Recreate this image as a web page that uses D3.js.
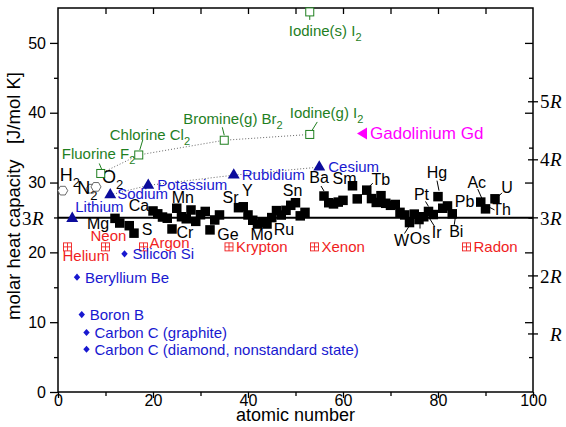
<!DOCTYPE html>
<html>
<head>
<meta charset="utf-8">
<title>Dulong-Petit</title>
<script src="https://d3js.org/d3.v7.min.js"></script>
<style>
  body { margin: 0; background: #fff; }
  text { font-family: Arial, "Liberation Sans", sans-serif; }
  .serif { font-family: "Liberation Serif", "Times New Roman", serif; }
</style>
</head>
<body>
<script>
// ---- data (molar heat capacity, J/mol K, 25 C) ----
var R = 8.314;

var solidSym = ['Mg','Al','P','S','Ca','Sc','Ti','V','Cr','Mn','Fe','Co','Ni','Cu','Zn','Ga','Ge','As','Se',
  'Sr','Y','Zr','Nb','Mo','Tc','Ru','Rh','Pd','Ag','Cd','In','Sn','Sb','Te',
  'Ba','La','Ce','Pr','Nd','Sm','Eu','Tb','Dy','Ho','Er','Tm','Yb','Lu','Hf','Ta','W','Re','Os','Ir','Pt','Au','Hg','Tl','Pb','Bi',
  'Ac','Th','U'];
var solidZ = [12,13,15,16,20,21,22,23,24,25,26,27,28,29,30,31,32,33,34,
  38,39,40,41,42,43,44,45,46,47,48,49,50,51,52,
  56,57,58,59,60,62,63,65,66,67,68,69,70,71,72,73,74,75,76,77,78,79,80,81,82,83,
  89,90,92];
var solidCp = [24.87,24.20,23.82,22.75,25.93,25.52,25.06,24.89,23.35,26.32,25.10,24.81,26.07,24.44,25.39,25.86,23.22,24.64,25.36,
  26.40,26.53,25.36,24.60,24.06,24.27,24.06,24.98,25.98,25.35,26.02,26.74,27.11,25.23,25.73,
  28.07,27.11,26.94,27.20,27.45,29.54,27.66,28.91,27.70,27.15,28.12,27.03,26.74,26.86,25.73,25.36,24.27,25.48,24.70,25.10,25.86,25.42,27.98,26.32,26.65,25.52,
  27.20,26.23,27.67];

var alkaliName = ['Lithium','Sodium','Potassium','Rubidium','Cesium'];
var alkaliZ = [3,11,19,37,55];
var alkaliCp = [24.86,28.23,29.60,31.06,32.21];

var nobleName = ['Helium','Neon','Argon','Krypton','Xenon','Radon'];
var nobleZ = [2,10,18,36,54,86];
var nobleCp = [20.786,20.786,20.786,20.786,20.786,20.786];

var lightName = ['Beryllium Be','Silicon Si','Boron B','Carbon C (graphite)','Carbon C (diamond, nonstandard state)'];
var lightZ = [4,14,5,6,6];
var lightCp = [16.44,19.79,11.09,8.52,6.12];

var halName = ['Fluorine F','Chlorine Cl','Bromine(g) Br','Iodine(g) I','Iodine(s) I'];
var halZ = [9,17,35,53,53];
var halCp = [31.30,33.95,36.06,36.89,54.44];

var gasName = ['H','N','O'];
var gasZ = [1,7,8];
var gasCp = [28.84,29.12,29.38];

var gdZ = 64, gdCp = 37.03;

var xTicks = [0,20,40,60,80,100];
var yTicks = [0,10,20,30,40,50];
var rMult = [1,2,3,4,5];

// ---- label placement (pixels relative to point) ----
var solidLab = {
  Mg:[-17,11], Ca:[-14,0], S:[13,2], Cr:[13,9], Mn:[6,-5], Ge:[18,10], Sr:[-8,-5], Y:[4,-11],
  Mo:[4,16], Ru:[17,11], Sn:[-3,-7], Ba:[-5,-13,[-3,-10,0,-5]], Sm:[-8,-2], Tb:[14,-5,[6,-7,3,-4]],
  Hg:[-1,-19,[-1,-16,1,-6]], Pt:[-7,-11,[-3,-10,0,-5]], Pb:[17,1], Bi:[4,23,[3,4,2,11]],
  Ir:[13,21,[6,2,11,10]], Os:[1,24,[1,3,1,9]], W:[-8,23,[0,3,-5,11]],
  Ac:[-4,-14,[-3,-13,1,-4]], Th:[16,6,[3,-2,9,1]], U:[12,-6,[7,-6,3,-2]]
};
var alkaliLab = [[3,-6],[7,4],[9,5],[8,5],[9,5]];
var nobleLab = [[-5,14],[-15,-6],[6,1],[7,5],[7,5],[7,5]];
var halLab = [[-39,-14,[-1.5,-10,1,-4]],[-29,-15,[4,-15,1,-5]],[-41,-16,[-2,-13,0,-5]],[-20,-16,[7.5,-12.5,1,-2]],[-21,24,[0,4,0,8]]];
var gasLab = [[-3,-10],[-14,5],[6,-4]];

var W = 566, H = 427;
var x = d3.scaleLinear().domain([0,100]).range([58,533]);
var y = d3.scaleLinear().domain([0,55]).range([392,8]);

var green = '#1f7f1f', blueT = '#1818d0', navy = '#0c0c9c', red = '#f01e1e', mag = '#ff00ff';

var svg = d3.select('body').append('svg').attr('width', W).attr('height', H);

// axes
var gb = svg.append('g').attr('transform', 'translate(0,392)');
gb.call(d3.axisBottom(x).tickValues(xTicks).tickSize(6).tickPadding(0));
gb.append('g').call(d3.axisBottom(x).tickValues([10,30,50,70,90]).tickSize(4).tickFormat(''));
gb.selectAll('.tick text').attr('y', 3);
svg.append('g').attr('transform', 'translate(0,8)')
  .call(d3.axisTop(x).tickValues([10,20,30,40,50,60,70,80,90]).tickSize(-6).tickFormat(''));
var gl = svg.append('g').attr('transform', 'translate(58,0)');
gl.call(d3.axisLeft(y).tickValues(yTicks).tickSize(8).tickPadding(4));
gl.append('g').call(d3.axisLeft(y).tickValues([5,15,25,35,45]).tickSize(4).tickFormat(''));
var gr = svg.append('g').attr('transform', 'translate(533,0)');
gr.call(d3.axisRight(y).tickValues(yTicks.slice(1)).tickSize(-8).tickFormat(''));
gr.append('g').call(d3.axisRight(y).tickValues([5,15,25,35,45]).tickSize(-4).tickFormat(''));
svg.selectAll('.domain').remove();
svg.selectAll('.tick line').attr('stroke', '#000').attr('stroke-width', 1.3);
svg.selectAll('.tick text').attr('font-size', 16).attr('fill', '#000')
  .style('font-family', 'Arial, "Liberation Sans", sans-serif');

// R ticks on the right
var rg = gr.selectAll('g.rt').data(rMult).enter().append('g').attr('class', 'rt')
  .attr('transform', d => 'translate(0,' + y(d * R) + ')');
rg.append('line').attr('x1', -5).attr('x2', 5).attr('stroke', '#000').attr('stroke-width', 1.3);
var rt = rg.append('text').attr('class', 'serif').attr('dy', '0.35em').attr('font-size', 19).attr('fill', '#000');
rt.append('tspan').attr('x', 7).text(d => d === 1 ? '' : d);
rt.append('tspan').attr('x', 17).attr('font-style', 'italic').text('R');

// frame
svg.append('rect').attr('x', 58).attr('y', 8).attr('width', 475).attr('height', 384)
  .attr('fill', 'none').attr('stroke', '#000').attr('stroke-width', 1.5);

// 3R line and label
svg.append('line').attr('x1', x(0)).attr('x2', x(100)).attr('y1', y(3 * R)).attr('y2', y(3 * R))
  .attr('stroke', '#000').attr('stroke-width', 2);
var l3 = svg.append('text').attr('class', 'serif').attr('y', y(3 * R)).attr('dy', '0.35em')
  .attr('font-size', 19).attr('fill', '#000');
l3.append('tspan').attr('x', 22).text('3');
l3.append('tspan').attr('x', 32).attr('font-style', 'italic').text('R');

// axis titles
svg.append('text').attr('x', x(50)).attr('y', 421).attr('text-anchor', 'middle').attr('font-size', 18).text('atomic number');
svg.append('text').attr('transform', 'translate(20,196) rotate(-90)').attr('text-anchor', 'middle')
  .attr('font-size', 18.5).attr('xml:space', 'preserve').text('molar heat capacity   [J/mol K]');

// dotted trend lines
var line = d3.line().x(d => x(d[0])).y(d => y(d[1]));
svg.append('path').attr('d', line(d3.zip(halZ.slice(0, 4), halCp.slice(0, 4))))
  .attr('fill', 'none').attr('stroke', '#666').attr('stroke-width', 1).attr('stroke-dasharray', '1,2');
svg.append('path').attr('d', line(d3.zip(alkaliZ.slice(1), alkaliCp.slice(1))))
  .attr('fill', 'none').attr('stroke', '#666').attr('stroke-width', 1).attr('stroke-dasharray', '1,2');

function lead(px, py, l, col) {
  svg.append('line').attr('x1', px + l[0]).attr('y1', py + l[1]).attr('x2', px + l[2]).attr('y2', py + l[3])
    .attr('stroke', col).attr('stroke-width', 1);
}

// solid elements: black squares
solidZ.forEach(function (z, i) {
  svg.append('rect').attr('x', x(z) - 4.75).attr('y', y(solidCp[i]) - 4.75).attr('width', 9.5).attr('height', 9.5).attr('fill', '#000');
});
solidSym.forEach(function (s, i) {
  var p = solidLab[s];
  if (!p) return;
  var px = x(solidZ[i]), py = y(solidCp[i]);
  if (p[2]) lead(px, py, p[2], '#000');
  svg.append('text').attr('x', px + p[0]).attr('y', py + p[1]).attr('text-anchor', 'middle')
    .attr('font-size', 16).attr('fill', '#000').text(s);
});

// diatomic gases: hexagons
var hex = d3.range(6).map(k => [5 * Math.cos(k * Math.PI / 3), 5 * Math.sin(k * Math.PI / 3)]);
gasZ.forEach(function (z, i) {
  var px = x(z), py = y(gasCp[i]);
  svg.append('path').attr('d', 'M' + hex.map(h => [px + h[0], py + h[1]].join(',')).join('L') + 'Z')
    .attr('fill', '#fff').attr('stroke', '#444').attr('stroke-width', 0.8);
  var t = svg.append('text').attr('x', px + gasLab[i][0]).attr('y', py + gasLab[i][1]).attr('font-size', 18).text(gasName[i]);
  t.append('tspan').attr('dy', 6).attr('font-size', 13).text('2');
});

// halogens: open green squares
halZ.forEach(function (z, i) {
  var px = x(z), py = y(halCp[i]), p = halLab[i];
  lead(px, py, p[2], green);
  svg.append('rect').attr('x', px - 4).attr('y', py - 4).attr('width', 8).attr('height', 8)
    .attr('fill', '#fff').attr('stroke', green).attr('stroke-width', 1);
  var t = svg.append('text').attr('x', px + p[0]).attr('y', py + p[1]).attr('font-size', 15).attr('fill', green).text(halName[i]);
  t.append('tspan').attr('dy', 5).attr('font-size', 11).text('2');
});

// alkali metals: blue triangles
alkaliZ.forEach(function (z, i) {
  var px = x(z), py = y(alkaliCp[i]);
  svg.append('path').attr('d', d3.symbol(d3.symbolTriangle, 62)()).attr('transform', 'translate(' + px + ',' + py + ')')
    .attr('fill', navy);
  svg.append('text').attr('x', px + alkaliLab[i][0]).attr('y', py + alkaliLab[i][1]).attr('font-size', 15)
    .attr('fill', blueT).text(alkaliName[i]);
});

// noble gases: boxed plus
nobleZ.forEach(function (z, i) {
  var px = x(z), py = y(nobleCp[i]);
  var g = svg.append('g').attr('transform', 'translate(' + px + ',' + py + ')').attr('stroke', red).attr('stroke-width', 0.9).attr('fill', 'none');
  g.append('rect').attr('x', -4).attr('y', -4).attr('width', 8).attr('height', 8);
  g.append('path').attr('d', 'M-4,0H4M0,-4V4');
  svg.append('text').attr('x', px + nobleLab[i][0]).attr('y', py + nobleLab[i][1]).attr('font-size', 15)
    .attr('fill', red).text(nobleName[i]);
});

// light elements: blue diamonds
lightZ.forEach(function (z, i) {
  var px = x(z), py = y(lightCp[i]);
  svg.append('path').attr('d', 'M0,-3.6L3.2,0L0,3.6L-3.2,0Z').attr('transform', 'translate(' + px + ',' + py + ')')
    .attr('fill', blueT);
  svg.append('text').attr('x', px + 8).attr('y', py + 5.5).attr('font-size', 15).attr('fill', blueT).text(lightName[i]);
});

// gadolinium
var gx = x(gdZ), gy = y(gdCp);
svg.append('path').attr('d', 'M-5,0L5,-6L5,6Z').attr('transform', 'translate(' + gx + ',' + gy + ')').attr('fill', mag);
svg.append('text').attr('x', gx + 8).attr('y', gy + 6).attr('font-size', 17).attr('fill', mag).text('Gadolinium Gd');
</script>
</body>
</html>
